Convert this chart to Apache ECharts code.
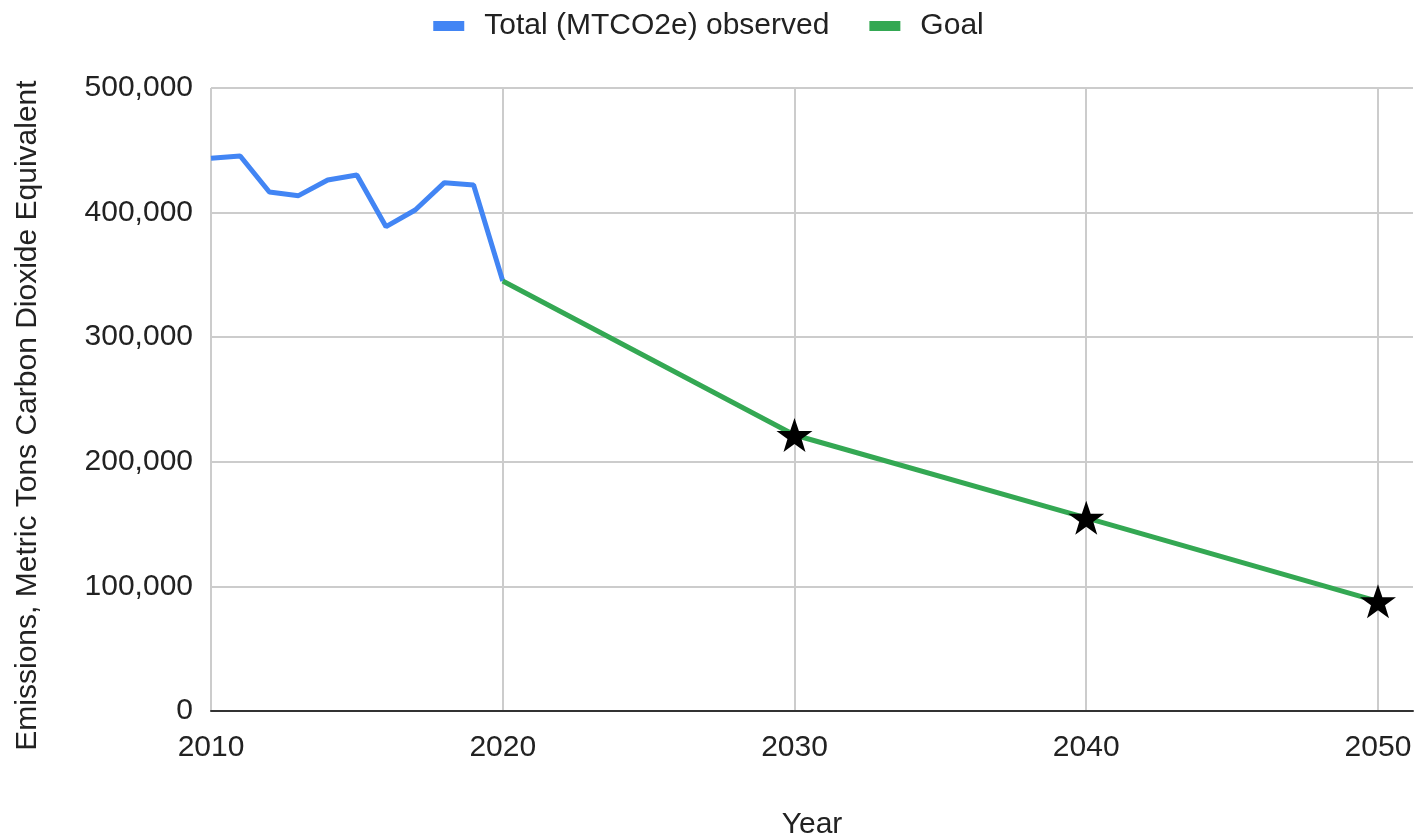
<!DOCTYPE html>
<html>
<head>
<meta charset="utf-8">
<script src="https://cdn.jsdelivr.net/npm/echarts@6/dist/echarts.min.js"></script>
<style>
  html, body { margin: 0; padding: 0; background: #fff; }
  #chart { width: 1417px; height: 836px; }
</style>
</head>
<body>
<div id="chart"></div>
<script>
// observed emissions
const observedYears = [2010, 2011, 2012, 2013, 2014, 2015, 2016, 2017, 2018, 2019, 2020]
const observedValues = [443600, 445400, 416500, 413600, 426200, 430200, 388700, 402100, 424000, 422200, 345100]

// goal path (stars on the target years)
const goalYears = [2020, 2030, 2040, 2050]
const goalValues = [345100, 221500, 155000, 88000]

const yTicks = [0, 100000, 200000, 300000, 400000, 500000]
const xTicks = [2010, 2020, 2030, 2040, 2050]

const fontFamily = '"Liberation Sans", Arial, sans-serif'
const starPath = 'path://M50,0 L61.8,35.1 L98.1,35.1 L68.8,56.7 L79.4,91.9 L50,70 L20.6,91.9 L31.2,56.7 L1.9,35.1 L38.2,35.1 Z'

const chart = echarts.init(document.getElementById('chart'))

chart.setOption({
  animation: false,
  textStyle: { fontFamily: fontFamily },
  legend: {
    top: 6,
    left: 'center',
    icon: 'rect',
    itemWidth: 31,
    itemHeight: 10,
    itemGap: 40,
    textStyle: { fontSize: 30, color: '#222', padding: [0, 0, 0, 15], fontFamily: fontFamily },
    data: ['Total (MTCO2e) observed', 'Goal']
  },
  grid: {
    left: 211,
    right: 4,
    top: 88,
    bottom: 125,
    containLabel: false,
    outerBoundsMode: 'none'
  },
  xAxis: {
    type: 'value',
    min: xTicks[0],
    max: 2051.2,
    interval: 10,
    name: 'Year',
    nameLocation: 'middle',
    nameGap: 99,
    nameTextStyle: { fontSize: 30, color: '#222', fontFamily: fontFamily },
    axisLine: { show: true, lineStyle: { color: '#333', width: 2 } },
    axisTick: { show: false },
    axisLabel: {
      fontSize: 30,
      color: '#222',
      fontFamily: fontFamily,
      margin: 22,
      showMaxLabel: false,
      formatter: function(v) { return xTicks.indexOf(v) >= 0 ? String(v) : '' }
    },
    splitLine: { show: true, showMaxLine: false, lineStyle: { color: '#cccccc', width: 2 } }
  },
  yAxis: {
    type: 'value',
    min: yTicks[0],
    max: yTicks[yTicks.length - 1],
    interval: 100000,
    name: 'Emissions, Metric Tons Carbon Dioxide Equivalent',
    nameLocation: 'middle',
    nameGap: 168,
    nameTextStyle: { fontSize: 30, color: '#222', fontFamily: fontFamily, padding: [0, 32, 0, 0] },
    axisLine: { show: false },
    axisTick: { show: false },
    axisLabel: {
      fontSize: 30,
      color: '#222',
      fontFamily: fontFamily,
      margin: 18,
      formatter: function(v) { return v.toLocaleString('en-US') }
    },
    splitLine: { show: true, lineStyle: { color: '#cccccc', width: 2 } }
  },
  series: [{
    name: 'Total (MTCO2e) observed',
    type: 'line',
    showSymbol: false,
    itemStyle: { color: '#4285f4' },
    lineStyle: { color: '#4285f4', width: 5 },
    data: observedYears.map((y, i) => [y, observedValues[i]])
  }, {
    name: 'Goal',
    type: 'line',
    symbol: starPath,
    symbolSize: [36, 34],
    itemStyle: { color: '#34a853' },
    lineStyle: { color: '#34a853', width: 5 },
    z: 3,
    data: goalYears.map((y, i) => (i === 0
      ? { value: [y, goalValues[i]], symbol: 'none' }
      : { value: [y, goalValues[i]], itemStyle: { color: '#000' } }))
  }]
})
</script>
</body>
</html>
